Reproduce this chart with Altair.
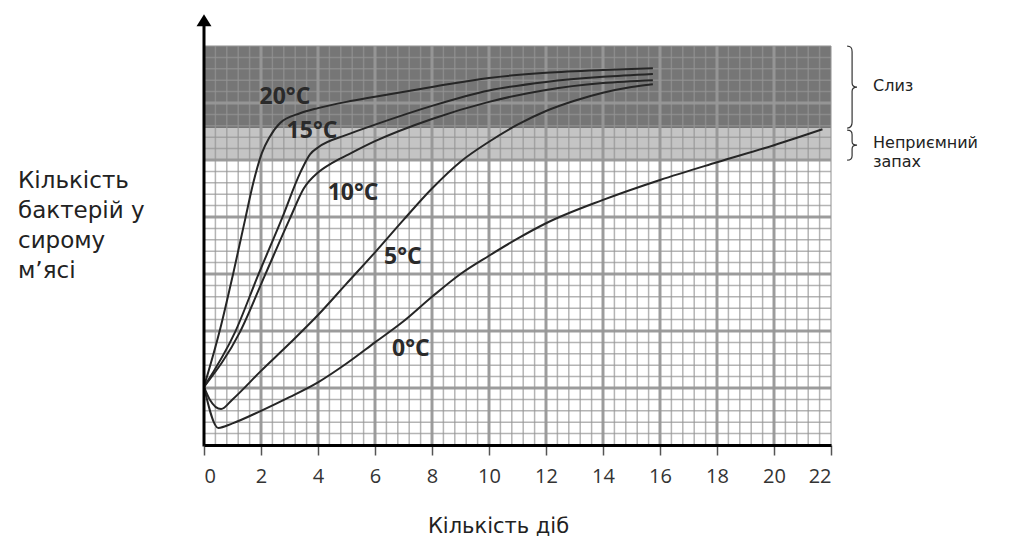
import altair as alt
import pandas as pd

# ---------------- data ----------------
DAY_TICKS = [0, 2, 4, 6, 8, 10, 12, 14, 16, 18, 20, 22]

T20_X = [0, 0.56, 1.03, 1.44, 1.73, 2.03, 2.3, 2.67, 3.37, 4, 5, 6, 8, 10, 12, 14, 15.75]
T20_Y = [1.02, 2.02, 3.02, 3.95, 4.6, 5.12, 5.4, 5.65, 5.82, 5.91, 6.02, 6.11, 6.28, 6.44, 6.53, 6.58, 6.61]

T15_X = [0, 1.09, 1.9, 2.74, 3.37, 3.72, 4.0, 5, 6, 8, 10, 12, 14, 15.75]
T15_Y = [1.02, 1.98, 2.98, 3.98, 4.77, 5.1, 5.22, 5.44, 5.62, 5.95, 6.22, 6.37, 6.46, 6.51]

T10_X = [0, 1.26, 2.14, 3.02, 3.5, 4.0, 4.5, 5, 6, 8, 10, 12, 14, 15.75]
T10_Y = [1.02, 1.98, 2.98, 3.98, 4.5, 4.78, 4.95, 5.08, 5.33, 5.72, 6.02, 6.23, 6.35, 6.40]

T5_X = [0, 0.2, 0.6, 1.0, 2, 3, 4, 5, 6, 7, 8, 9, 10, 11, 12, 13, 14, 15, 15.75]
T5_Y = [1.02, 0.8, 0.63, 0.8, 1.3, 1.78, 2.28, 2.83, 3.38, 3.95, 4.5, 4.97, 5.32, 5.62, 5.86, 6.04, 6.18, 6.28, 6.33]

T0_X = [0, 0.5, 1, 2, 3, 4, 5, 6, 7, 8, 9, 10, 11, 12, 14, 16, 18, 20, 21.7]
T0_Y = [1.02, 0.3, 0.38, 0.6, 0.84, 1.1, 1.43, 1.8, 2.17, 2.6, 3.0, 3.32, 3.62, 3.89, 4.3, 4.65, 4.96, 5.26, 5.54]

CURVE_NAMES = ["20°C", "15°C", "10°C", "5°C", "0°C"]
LABEL_X = [2.84, 3.79, 5.23, 6.98, 7.26]
LABEL_Y = [6.10, 5.51, 4.42, 3.30, 1.68]

BAND_NAMES = ["Неприємний запах", "Слиз"]
BAND_LOW = [5.0, 5.56]
BAND_HIGH = [5.56, 7.0]

X_MAX = 22
Y_MAX = 7

# ---------------- tables ----------------
series = [(CURVE_NAMES[0], T20_X, T20_Y), (CURVE_NAMES[1], T15_X, T15_Y),
          (CURVE_NAMES[2], T10_X, T10_Y), (CURVE_NAMES[3], T5_X, T5_Y),
          (CURVE_NAMES[4], T0_X, T0_Y)]
rows = []
for name, xs_, ys_ in series:
    for i, (a, b) in enumerate(zip(xs_, ys_)):
        rows.append({"t": name, "i": i, "day": a, "n": b})
curves_df = pd.DataFrame(rows)

labels_df = pd.DataFrame({"t": CURVE_NAMES, "day": LABEL_X, "n": LABEL_Y})
bands_df = pd.DataFrame({"name": BAND_NAMES, "lo": BAND_LOW, "hi": BAND_HIGH,
                         "x0": [0] * 2, "x1": [X_MAX] * 2})

minor_v = pd.DataFrame({"p": [i * 0.4 for i in range(1, 56) if i % 5 != 0] + [X_MAX]})
major_v = pd.DataFrame({"p": [v for v in DAY_TICKS if 0 < v < X_MAX]})
minor_h = pd.DataFrame({"p": [j * 0.2 for j in range(1, 35) if j % 5 != 0] + [Y_MAX]})
major_h = pd.DataFrame({"p": list(range(1, Y_MAX))})
for d in (minor_v, major_v):
    d["lo"], d["hi"] = 0, Y_MAX
for d in (minor_h, major_h):
    d["lo"], d["hi"] = 0, X_MAX

xs = alt.Scale(domain=[0, X_MAX], nice=False, zero=False)
ys = alt.Scale(domain=[0, Y_MAX], nice=False, zero=False)

F_TEXT = "DejaVu Sans"
F_NUM = "Open Sans"

XAXIS = alt.Axis(
    values=DAY_TICKS, grid=False, format="d",
    domainColor="#000000", domainWidth=3,
    tickColor="#555555", tickWidth=1.5, tickSize=10,
    labelFont=F_NUM, labelFontSize=20, labelColor="#333333", labelPadding=11,
    title="Кількість діб", titleFont=F_TEXT, titleFontSize=21, titleFontWeight="normal",
    titleColor="#222222", titleX=294, titleY=87, titleBaseline="alphabetic", titleAlign="center",
    zindex=1)


def X(field):
    return alt.X(field, scale=xs, axis=XAXIS)


def Y(field):
    return alt.Y(field, scale=ys, axis=None)


bands = alt.Chart(bands_df).mark_rect().encode(
    x=X("x0:Q"), x2="x1:Q", y=Y("lo:Q"), y2="hi:Q",
    color=alt.Color("name:N", scale=alt.Scale(domain=BAND_NAMES, range=["#c4c4c4", "#767676"]), legend=None),
)


def vrules(df, color, width, opacity):
    return alt.Chart(df).mark_rule(color=color, strokeWidth=width, opacity=opacity).encode(
        x=X("p:Q"), y=Y("lo:Q"), y2="hi:Q")


def hrules(df, color, width, opacity):
    return alt.Chart(df).mark_rule(color=color, strokeWidth=width, opacity=opacity).encode(
        y=Y("p:Q"), x=X("lo:Q"), x2="hi:Q")


grid = [
    vrules(minor_v, "#949494", 1.5, 0.7),
    hrules(minor_h, "#949494", 1.5, 0.7),
    vrules(major_v, "#979797", 3, 0.95),
    hrules(major_h, "#979797", 3, 0.95),
]

curves = alt.Chart(curves_df).mark_line(interpolate="monotone", color="#262626", strokeWidth=2).encode(
    x=X("day:Q"), y=Y("n:Q"), detail="t:N", order="i:Q",
)

curve_labels = alt.Chart(labels_df).mark_text(
    font=F_NUM, fontSize=23, fontWeight="bold", color="#2a2a2a", align="center", baseline="middle"
).encode(x=X("day:Q"), y=Y("n:Q"), text="t:N")

axis_df = pd.DataFrame({"x": [0], "lo": [0], "hi": [7.45]})
y_axis = alt.Chart(axis_df).mark_rule(color="#000000", strokeWidth=3, strokeCap="square").encode(
    x=X("x:Q"), y=Y("lo:Q"), y2="hi:Q")
arrow = alt.Chart(axis_df).mark_point(
    shape="M0,-0.8L1,0.8L-1,0.8Z", size=225, filled=True, color="#000000", opacity=1
).encode(x=X("x:Q"), y=Y("hi:Q"))

brace_df = pd.DataFrame({"x": [22.74], "big": [(BAND_HIGH[1] + BAND_LOW[1]) / 2],
                         "small": [(BAND_HIGH[0] + BAND_LOW[0]) / 2 - 0.02]})
brace_big = alt.Chart(brace_df).mark_point(
    shape="M-0.12,-1C-0.03,-1 0,-0.96 0,-0.86L0,-0.1C0,-0.03 0.04,0 0.12,0C0.04,0 0,0.03 0,0.1L0,0.86C0,0.96 -0.03,1 -0.12,1",
    size=6724, filled=False, color="#333333", strokeWidth=1.2, opacity=1
).encode(x=X("x:Q"), y=Y("big:Q"))
brace_small = alt.Chart(brace_df).mark_point(
    shape="M-0.33,-1C-0.08,-1 0,-0.9 0,-0.7L0,-0.25C0,-0.08 0.1,0 0.33,0C0.1,0 0,0.08 0,0.25L0,0.7C0,0.9 -0.08,1 -0.33,1",
    size=900, filled=False, color="#333333", strokeWidth=1.2, opacity=1
).encode(x=X("x:Q"), y=Y("small:Q"))

one = pd.DataFrame({"k": [0]})
y_title = alt.Chart(one).mark_text(
    text=["Кількість", "бактерій у", "сирому", "м’ясі"], lineHeight=30,
    align="left", baseline="alphabetic", font=F_TEXT, fontSize=23, color="#222222"
).encode(x=alt.value(-186), y=alt.value(142))
slyz = alt.Chart(one).mark_text(
    text="Слиз", align="left", baseline="alphabetic", font=F_TEXT, fontSize=16, color="#222222"
).encode(x=alt.value(669), y=alt.value(45))
smell = alt.Chart(one).mark_text(
    text=["Неприємний", "запах"], lineHeight=19, align="left", baseline="alphabetic",
    font=F_TEXT, fontSize=16, color="#222222"
).encode(x=alt.value(669), y=alt.value(102))

chart = alt.layer(
    bands, *grid, curves, curve_labels, y_axis, arrow, brace_big, brace_small, y_title, slyz, smell
).properties(
    width=627, height=399,
    autosize=alt.AutoSizeParams(type="none"),
    padding={"left": 196, "top": 38, "right": 185, "bottom": 100},
    background="white",
).configure_view(stroke=None)

chart.save("out.html", embed_options={"renderer": "svg", "actions": False})
